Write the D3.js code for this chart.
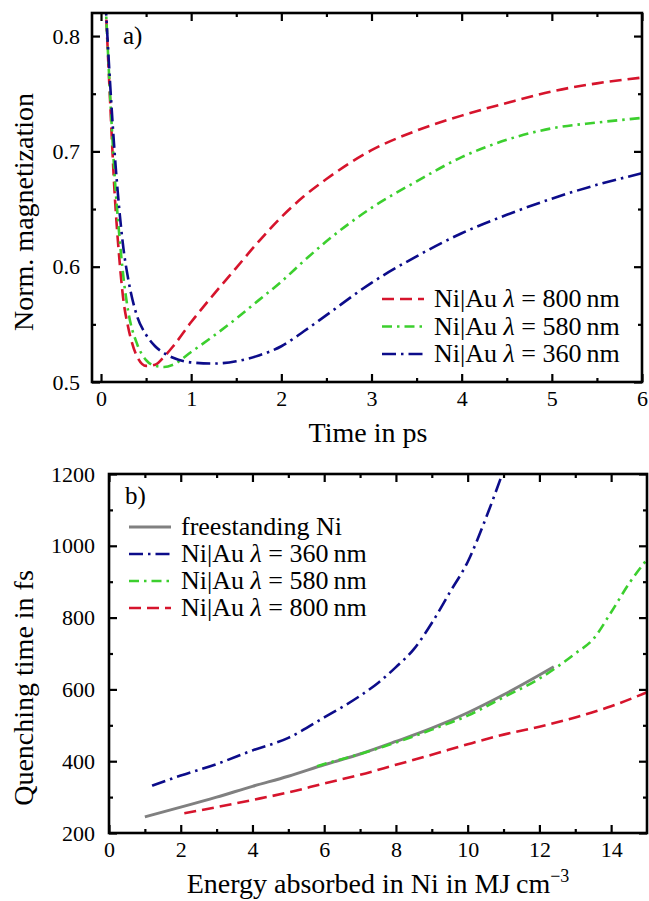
<!DOCTYPE html>
<html>
<head>
<meta charset="utf-8">
<script src="https://cdn.jsdelivr.net/npm/d3@7"></script>
<style>
  body { margin: 0; background: #fff; }
  svg text { font-family: "Liberation Serif", "DejaVu Serif", "Noto Serif", "Tinos", "Times New Roman", "FreeSerif", serif !important; fill: #000; }
</style>
</head>
<body>
<script>
const width = 649
const height = 901

// ---- panel a) data: normalised magnetization vs time (ps)
const timeA = [0.05, 0.1, 0.15, 0.2, 0.25, 0.3, 0.4, 0.5, 0.6, 0.7, 0.8, 1.0, 1.25, 1.5, 1.75, 2.0, 2.25, 2.5, 3.0, 3.5, 4.0, 4.5, 5.0, 5.5, 6.0]
const mag800 = [0.83, 0.745, 0.665, 0.61, 0.57, 0.548, 0.522, 0.514, 0.515, 0.522, 0.531, 0.552, 0.576, 0.599, 0.622, 0.643, 0.661, 0.676, 0.701, 0.718, 0.731, 0.742, 0.752, 0.759, 0.764]
const mag580 = [0.83, 0.75, 0.68, 0.63, 0.59, 0.562, 0.533, 0.519, 0.514, 0.513, 0.515, 0.526, 0.54, 0.555, 0.571, 0.587, 0.605, 0.622, 0.651, 0.674, 0.695, 0.71, 0.72, 0.725, 0.729]
const mag360 = [0.83, 0.76, 0.70, 0.652, 0.615, 0.59, 0.557, 0.541, 0.531, 0.525, 0.521, 0.517, 0.516, 0.518, 0.523, 0.531, 0.544, 0.558, 0.586, 0.609, 0.629, 0.645, 0.659, 0.671, 0.681]

// ---- panel b) data: quenching time (fs) vs absorbed energy (MJ/cm^3)
const energyFree = [1.0, 2, 3, 4, 5, 6, 7, 8, 9, 10, 11, 12, 12.4]
const quenchFree = [245, 272, 300, 330, 358, 390, 420, 455, 492, 535, 585, 640, 663]
const energy360 = [1.2, 2, 3, 4, 5, 6, 7, 7.5, 8, 8.5, 9, 9.5, 10, 10.5, 11]
const quench360 = [332, 360, 392, 430, 465, 522, 582, 618, 662, 712, 785, 870, 955, 1075, 1210]
const energy580 = [5.8, 6, 7, 8, 9, 10, 11, 12, 12.5, 13, 13.5, 14, 14.5, 15]
const quench580 = [386, 392, 420, 452, 488, 527, 578, 630, 663, 700, 740, 815, 895, 962]
const energy800 = [2.1, 3, 4, 5, 6, 7, 8, 9, 10, 11, 12, 13, 14, 15]
const quench800 = [255, 272, 292, 313, 338, 362, 390, 418, 447, 474, 496, 522, 553, 592]

const styles = {
  free: {color: '#808080', dash: null, w: 3},
  n360: {color: '#0c0c8a', dash: '14,5,2.5,5', w: 2.6},
  n580: {color: '#3ccf2e', dash: '10,5,2.5,5', w: 2.6},
  n800: {color: '#d6142c', dash: '12,6', w: 2.6}
}

const serif = '"Liberation Serif", "DejaVu Serif", "Noto Serif", serif'

const svg = d3.select('body').append('svg')
  .attr('width', width)
  .attr('height', height)
  .attr('font-family', serif)

function panel(cfg) {
  const x = d3.scaleLinear().domain(cfg.xDomain).range([cfg.left, cfg.right])
  const y = d3.scaleLinear().domain(cfg.yDomain).range([cfg.bottom, cfg.top])
  const g = svg.append('g')

  const clipId = 'clip-' + cfg.name
  svg.append('clipPath').attr('id', clipId)
    .append('rect')
    .attr('x', cfg.left).attr('y', cfg.top)
    .attr('width', cfg.right - cfg.left).attr('height', cfg.bottom - cfg.top)

  // ticks, pointing inward, on all four sides
  const addAxis = (axisFn, pos, scale, vals, size, fmt, pad) => {
    const ax = axisFn(scale).tickValues(vals).tickSize(-size).tickSizeOuter(0)
      .tickPadding(pad || 0).tickFormat(fmt || '')
    const a = g.append('g').attr('transform', pos).call(ax)
    a.attr('font-family', serif)
    a.select('.domain').remove()
    a.selectAll('line').attr('stroke', '#000').attr('stroke-width', 2.2)
    a.selectAll('text').style('font-size', '22px').attr('fill', '#000')
    return a
  }
  addAxis(d3.axisBottom, `translate(0,${cfg.bottom})`, x, cfg.xMajor, 8, d3.format('d'), cfg.pad)
  addAxis(d3.axisBottom, `translate(0,${cfg.bottom})`, x, cfg.xMinor, 4)
  addAxis(d3.axisTop, `translate(0,${cfg.top})`, x, cfg.xMajor, 8)
  addAxis(d3.axisTop, `translate(0,${cfg.top})`, x, cfg.xMinor, 4)
  addAxis(d3.axisLeft, `translate(${cfg.left},0)`, y, cfg.yMajor, 8, cfg.yFmt, cfg.ypad)
  addAxis(d3.axisLeft, `translate(${cfg.left},0)`, y, cfg.yMinor, 4)
  addAxis(d3.axisRight, `translate(${cfg.right},0)`, y, cfg.yMajor, 8)
  addAxis(d3.axisRight, `translate(${cfg.right},0)`, y, cfg.yMinor, 4)

  const line = d3.line()
    .x(d => x(d[0]))
    .y(d => y(d[1]))
    .curve(d3.curveMonotoneX)

  cfg.series.forEach(s => {
    const st = styles[s.key]
    g.append('path')
      .datum(d3.zip(s.xs, s.ys))
      .attr('clip-path', `url(#${clipId})`)
      .attr('fill', 'none')
      .attr('stroke', st.color)
      .attr('stroke-width', st.w)
      .attr('stroke-dasharray', st.dash)
      .attr('d', line)
  })

  // frame
  g.append('rect')
    .attr('x', cfg.left).attr('y', cfg.top)
    .attr('width', cfg.right - cfg.left).attr('height', cfg.bottom - cfg.top)
    .attr('fill', 'none').attr('stroke', '#000').attr('stroke-width', 2.6)

  // panel letter
  g.append('text').attr('x', cfg.letterX).attr('y', cfg.letterY)
    .style('font-size', '25px').text(cfg.name + ')')

  // legend
  cfg.legend.forEach((item, i) => {
    const st = styles[item.key]
    const yy = cfg.legY + i * cfg.legStep
    g.append('line')
      .attr('x1', cfg.legX).attr('x2', cfg.legX + 42)
      .attr('y1', yy).attr('y2', yy)
      .attr('stroke', st.color).attr('stroke-width', st.w)
      .attr('stroke-dasharray', st.dash)
    const t = g.append('text').attr('x', cfg.legX + 52).attr('y', yy + 8)
      .style('font-size', '26px')
    if (item.nm) {
      t.append('tspan').text('Ni|Au ')
      t.append('tspan').style('font-style', 'italic').text('λ')
      t.append('tspan').text(' = ' + item.nm + '\u2009nm')
    } else {
      t.text(item.label)
    }
  })

  return {x, y, g}
}

panel({
  name: 'a',
  left: 92, right: 642, top: 13, bottom: 382,
  xDomain: [-0.1, 6], yDomain: [0.5, 0.82],
  xMajor: [0, 1, 2, 3, 4, 5, 6],
  xMinor: [0.5, 1.5, 2.5, 3.5, 4.5, 5.5],
  yMajor: [0.5, 0.6, 0.7, 0.8],
  yMinor: [0.55, 0.65, 0.75],
  yFmt: d3.format('.1f'),
  pad: 8, ypad: 12,
  letterX: 123, letterY: 44,
  legX: 382, legY: 299, legStep: 27.5,
  series: [
    {key: 'n800', xs: timeA, ys: mag800},
    {key: 'n580', xs: timeA, ys: mag580},
    {key: 'n360', xs: timeA, ys: mag360}
  ],
  legend: [{key: 'n800', nm: '800'}, {key: 'n580', nm: '580'}, {key: 'n360', nm: '360'}]
})

panel({
  name: 'b',
  left: 109, right: 647, top: 474, bottom: 833,
  xDomain: [0, 15], yDomain: [200, 1200],
  xMajor: [0, 2, 4, 6, 8, 10, 12, 14],
  xMinor: [1, 3, 5, 7, 9, 11, 13],
  yMajor: [200, 400, 600, 800, 1000, 1200],
  yMinor: [300, 500, 700, 900, 1100],
  yFmt: d3.format('d'),
  pad: 8, ypad: 14,
  letterX: 125, letterY: 504,
  legX: 129, legY: 527, legStep: 27,
  series: [
    {key: 'free', xs: energyFree, ys: quenchFree},
    {key: 'n360', xs: energy360, ys: quench360},
    {key: 'n580', xs: energy580, ys: quench580},
    {key: 'n800', xs: energy800, ys: quench800}
  ],
  legend: [{key: 'free', label: 'freestanding Ni'}, {key: 'n360', nm: '360'}, {key: 'n580', nm: '580'}, {key: 'n800', nm: '800'}]
})

// axis titles
svg.append('text')
  .attr('transform', 'translate(33,212) rotate(-90)')
  .attr('text-anchor', 'middle').style('font-size', '28px')
  .text('Norm. magnetization')
svg.append('text')
  .attr('x', 368).attr('y', 442)
  .attr('text-anchor', 'middle').style('font-size', '28px')
  .text('Time in ps')
svg.append('text')
  .attr('transform', 'translate(33,688) rotate(-90)')
  .attr('text-anchor', 'middle').style('font-size', '28px')
  .text('Quenching time in fs')
const xt = svg.append('text')
  .attr('x', 378).attr('y', 893)
  .attr('text-anchor', 'middle').style('font-size', '28px')
xt.append('tspan').text('Energy absorbed in Ni in MJ\u2009cm')
xt.append('tspan').attr('dy', -11).style('font-size', '18px').text('\u22123')
</script>
</body>
</html>
